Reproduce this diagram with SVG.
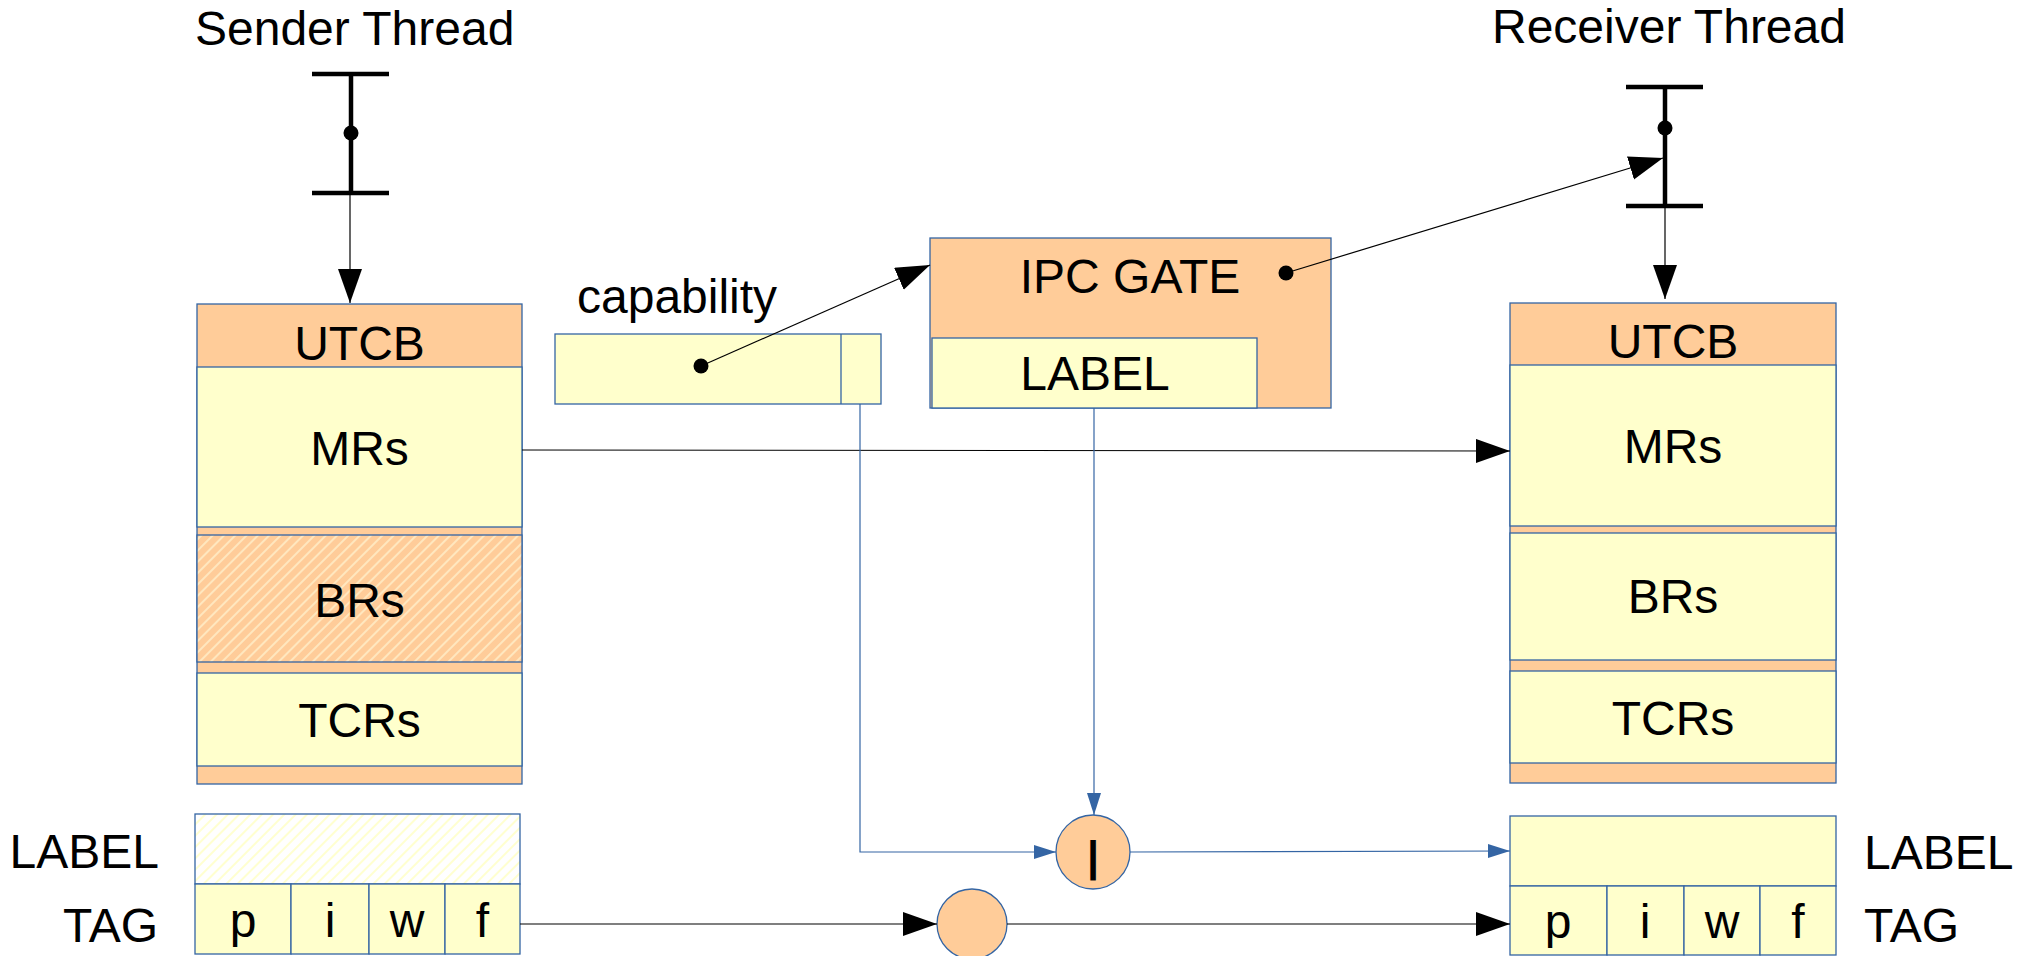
<svg xmlns="http://www.w3.org/2000/svg" width="2023" height="956" viewBox="0 0 2023 956">
<style>
text{font-family:"Liberation Sans",Arial,sans-serif;font-size:48px;fill:#000}
.c{text-anchor:middle}
.e{text-anchor:end}
.o{fill:#FFCC99;stroke:#3465A4;stroke-width:1.3}
.y{fill:#FFFFCC;stroke:#3465A4;stroke-width:1.3}
.hb{fill:url(#hatchO);stroke:#3465A4;stroke-width:1.3}
.hl{fill:url(#hatchY);stroke:#3465A4;stroke-width:1.3}
.thick{stroke:#000;stroke-width:4.5;fill:none}
.ln{stroke:#000;stroke-width:1.2;fill:none}
.bl{stroke:#3465A4;stroke-width:1.2;fill:none}
</style>
<defs>
<pattern id="hatchO" patternUnits="userSpaceOnUse" width="8" height="8" patternTransform="rotate(45)">
<rect width="8" height="8" fill="#FFCC99"/>
<line x1="1" y1="0" x2="1" y2="8" stroke="#FFF3D0" stroke-width="1.4"/>
</pattern>
<pattern id="hatchY" patternUnits="userSpaceOnUse" width="8" height="8" patternTransform="rotate(45)">
<rect width="8" height="8" fill="#FFFFFF"/>
<line x1="1" y1="0" x2="1" y2="8" stroke="#FFFFC4" stroke-width="1.6"/>
</pattern>
<marker id="ab" markerUnits="userSpaceOnUse" markerWidth="36" markerHeight="26" refX="34" refY="12" orient="auto">
<path d="M0,0 L34,12 L0,24 z" fill="#000"/>
</marker>
<marker id="au" markerUnits="userSpaceOnUse" markerWidth="24" markerHeight="16" refX="22" refY="7" orient="auto">
<path d="M0,0 L22,7 L0,14 z" fill="#3465A4"/>
</marker>
</defs>

<g id="sender-thread">
<text x="195" y="45">Sender Thread</text>
<line class="thick" x1="312" y1="74" x2="389" y2="74"/>
<line class="thick" x1="351" y1="74" x2="351" y2="191"/>
<line class="thick" x1="312" y1="193" x2="389" y2="193"/>
<circle cx="351" cy="133" r="7.5" fill="#000"/>
</g>

<g id="receiver-thread">
<text x="1492" y="43">Receiver Thread</text>
<line class="thick" x1="1626" y1="87" x2="1703" y2="87"/>
<line class="thick" x1="1665" y1="87" x2="1665" y2="204"/>
<line class="thick" x1="1626" y1="206" x2="1703" y2="206"/>
<circle cx="1665" cy="128" r="7.5" fill="#000"/>
</g>

<g id="sender-utcb">
<rect class="o" x="197" y="304" width="325" height="480"/>
<text class="c" x="359.5" y="360">UTCB</text>
<rect class="y" x="197" y="367" width="325" height="160"/>
<text class="c" x="359.5" y="465">MRs</text>
<rect class="hb" x="197" y="535" width="325" height="127"/>
<text class="c" x="359.5" y="617">BRs</text>
<rect class="y" x="197" y="673" width="325" height="93"/>
<text class="c" x="359.5" y="737">TCRs</text>
</g>

<g id="receiver-utcb">
<rect class="o" x="1510" y="303" width="326" height="480"/>
<text class="c" x="1673" y="358">UTCB</text>
<rect class="y" x="1510" y="365" width="326" height="161"/>
<text class="c" x="1673" y="463">MRs</text>
<rect class="y" x="1510" y="533" width="326" height="127"/>
<text class="c" x="1673" y="613">BRs</text>
<rect class="y" x="1510" y="671" width="326" height="92"/>
<text class="c" x="1673" y="735">TCRs</text>
</g>

<g id="capability">
<text x="577" y="313">capability</text>
<rect class="y" x="555" y="334" width="326" height="70"/>
<line x1="841" y1="334" x2="841" y2="404" stroke="#3465A4" stroke-width="1.3"/>
<circle cx="701" cy="366" r="7.5" fill="#000"/>
</g>

<g id="ipc-gate">
<rect class="o" x="930" y="238" width="401" height="170"/>
<text class="c" x="1130" y="293">IPC GATE</text>
<rect class="y" x="932" y="338" width="325" height="70"/>
<text class="c" x="1095" y="390">LABEL</text>
<circle cx="1286" cy="273" r="7.5" fill="#000"/>
</g>

<g id="sender-msg">
<text class="e" x="159" y="868">LABEL</text>
<text class="e" x="158" y="942">TAG</text>
<rect class="hl" x="195" y="814" width="325" height="70"/>
<rect class="y" x="195" y="884" width="96" height="70"/>
<rect class="y" x="291" y="884" width="78" height="70"/>
<rect class="y" x="369" y="884" width="76" height="70"/>
<rect class="y" x="445" y="884" width="75" height="70"/>
<text class="c" x="243" y="937">p</text>
<text class="c" x="330" y="937">i</text>
<text class="c" x="407" y="937">w</text>
<text class="c" x="482.5" y="937">f</text>
</g>

<g id="receiver-msg">
<rect class="y" x="1510" y="816" width="326" height="70"/>
<rect class="y" x="1510" y="886" width="97" height="69"/>
<rect class="y" x="1607" y="886" width="77" height="69"/>
<rect class="y" x="1684" y="886" width="76" height="69"/>
<rect class="y" x="1760" y="886" width="76" height="69"/>
<text class="c" x="1558" y="938">p</text>
<text class="c" x="1645" y="938">i</text>
<text class="c" x="1722" y="938">w</text>
<text class="c" x="1798" y="938">f</text>
<text x="1864" y="869">LABEL</text>
<text x="1864" y="942">TAG</text>
</g>

<g id="or-op">
<circle cx="1093" cy="852" r="37" fill="#FFCC99" stroke="#3465A4" stroke-width="1.3"/>
<text class="c" x="1093" y="871" style="font-size:43px;font-weight:bold">|</text>
</g>

<g id="copy-op">
<circle cx="972" cy="924" r="35" fill="#FFCC99" stroke="#3465A4" stroke-width="1.3"/>
</g>

<g id="connectors">
<line class="ln" x1="350" y1="195" x2="350" y2="303" marker-end="url(#ab)"/>
<line class="ln" x1="1665" y1="208" x2="1665" y2="299" marker-end="url(#ab)"/>
<line class="ln" x1="701" y1="366" x2="930" y2="265" marker-end="url(#ab)"/>
<line class="ln" x1="1286" y1="273" x2="1663" y2="158" marker-end="url(#ab)"/>
<line class="ln" x1="522" y1="450" x2="1510" y2="451" marker-end="url(#ab)"/>
<polyline class="bl" points="860,404 860,852 1056,852" marker-end="url(#au)"/>
<line class="bl" x1="1094" y1="408" x2="1094" y2="815" marker-end="url(#au)"/>
<line class="bl" x1="1130" y1="852" x2="1510" y2="851" marker-end="url(#au)"/>
<line class="ln" x1="520" y1="924" x2="937" y2="924" marker-end="url(#ab)"/>
<line class="ln" x1="1007" y1="924" x2="1510" y2="924" marker-end="url(#ab)"/>
</g>
</svg>
